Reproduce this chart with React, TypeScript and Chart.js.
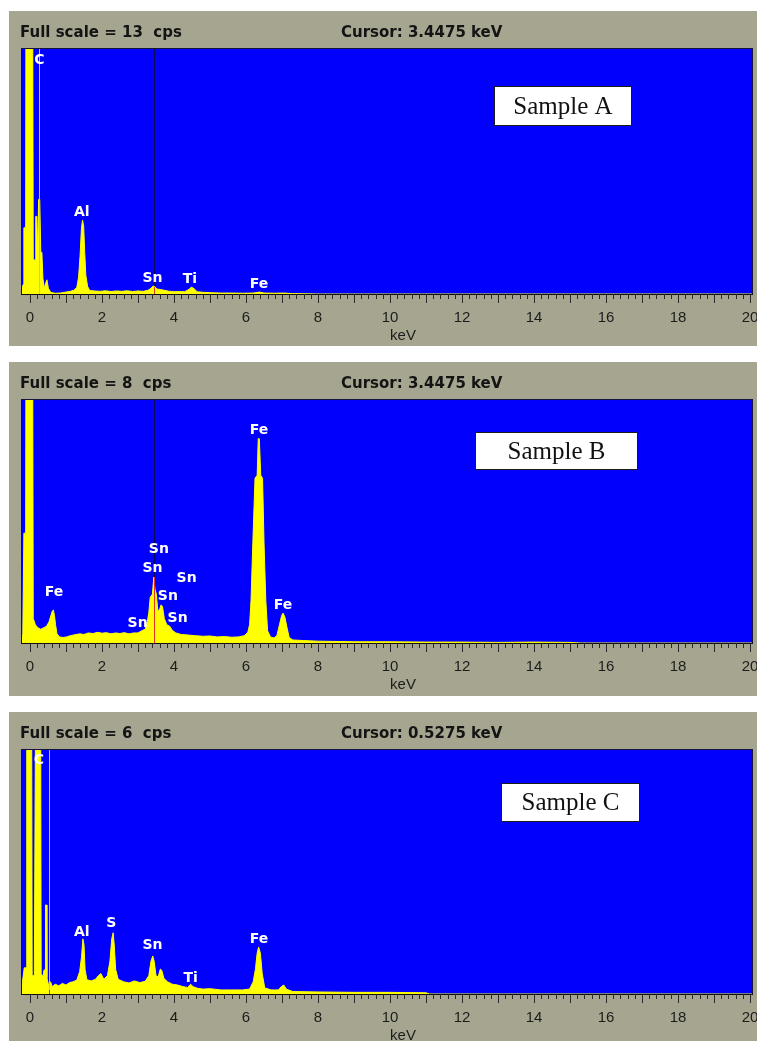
import React, { useEffect, useRef } from 'react';
import { Chart, registerables } from 'chart.js';

Chart.register(...registerables);

// ---------- axis ----------
const X_MIN = -0.25;
const X_MAX = 20.083;
const xTickValues = [0, 2, 4, 6, 8, 10, 12, 14, 16, 18, 20];
const xTickLabels = ['0', '2', '4', '6', '8', '10', '12', '14', '16', '18', '20'];
const xTitle = 'keV';
const xTitleKeV = 10.36;

// ---------- Sample A ----------
const sampleAEnergy = [
  -0.25, -0.22, -0.19, -0.17, -0.12, -0.11, 0.07, 0.09, 0.14, 0.16, 0.19, 0.21, 0.24, 0.27, 0.3, 0.33,
  0.36, 0.4, 0.44, 0.47, 0.51, 0.58, 0.7, 0.85, 1.0, 1.12, 1.22, 1.3, 1.35, 1.39, 1.43, 1.46, 1.49,
  1.52, 1.55, 1.6, 1.66, 1.8, 1.95, 2.1, 2.25, 2.4, 2.55, 2.7, 2.85, 3.0, 3.15, 3.28, 3.36, 3.42,
  3.47, 3.53, 3.62, 3.72, 3.85, 4.0, 4.15, 4.3, 4.42, 4.48, 4.55, 4.64, 4.8, 5.0, 5.3, 5.6, 5.9,
  6.2, 6.38, 6.5, 6.8, 7.05, 7.3, 8.0, 20.08,
];
const sampleACounts = [
  0, 0.3, 0.5, 3.5, 3.5, 20, 20, 1.8, 1.8, 4.1, 4.1, 2.0, 5.0, 5.0, 2.2, 2.2,
  0.8, 0.3, 0.6, 0.75, 0.3, 0.08, 0.04, 0.05, 0.1, 0.14, 0.2, 0.35, 0.9, 2.0, 3.5, 3.9, 3.6,
  2.2, 1.0, 0.4, 0.18, 0.16, 0.14, 0.17, 0.13, 0.16, 0.14, 0.17, 0.13, 0.16, 0.14, 0.2, 0.3, 0.42,
  0.38, 0.26, 0.24, 0.2, 0.15, 0.12, 0.13, 0.12, 0.25, 0.36, 0.3, 0.12, 0.09, 0.07, 0.05, 0.05, 0.04,
  0.05, 0.1, 0.05, 0.04, 0.05, 0.02, 0, 0,
];
const sampleALabels = ['C', 'Al', 'Sn', 'Ti', 'Fe'];
const sampleALabelKeV = [0.26, 1.44, 3.4, 4.44, 6.36];
const sampleALabelCps = [12.37, 4.33, 0.85, 0.79, 0.53];

// ---------- Sample B ----------
const sampleBEnergy = [
  -0.25, -0.2, -0.17, -0.12, -0.11, 0.07, 0.09, 0.15, 0.22, 0.3, 0.38, 0.46, 0.53, 0.58, 0.62, 0.65,
  0.68, 0.71, 0.75, 0.82, 0.92, 1.02, 1.12, 1.25, 1.38, 1.5, 1.62, 1.75, 1.88, 2.0, 2.12, 2.25, 2.38,
  2.5, 2.62, 2.75, 2.88, 3.0, 3.1, 3.2, 3.26, 3.3, 3.34, 3.4, 3.44, 3.47, 3.51, 3.55, 3.6, 3.64,
  3.68, 3.73, 3.8, 3.88, 3.95, 4.05, 4.2, 4.4, 4.6, 4.8, 5.0, 5.2, 5.4, 5.6, 5.8, 5.95, 6.05, 6.1,
  6.14, 6.19, 6.25, 6.31, 6.34, 6.37, 6.41, 6.46, 6.5, 6.55, 6.6, 6.68, 6.78, 6.86, 6.93, 6.99, 7.03,
  7.08, 7.14, 7.2, 7.3, 7.6, 8.0, 8.5, 9.0, 10.0, 11.0, 12.0, 13.0, 14.0, 15.0, 15.3, 20.08,
];
const sampleBCounts = [
  0, 0.3, 3.6, 3.6, 12, 12, 0.8, 0.6, 0.5, 0.45, 0.5, 0.55, 0.7, 0.9, 1.05, 1.08,
  0.9, 0.6, 0.3, 0.2, 0.18, 0.2, 0.24, 0.27, 0.3, 0.28, 0.33, 0.31, 0.35, 0.32, 0.34, 0.3, 0.33,
  0.31, 0.34, 0.3, 0.33, 0.33, 0.4, 0.45, 0.7, 1.0, 1.5, 1.6, 2.16, 1.77, 1.6, 1.05, 1.1, 1.25,
  1.2, 0.8, 0.6, 0.55, 0.42, 0.33, 0.28, 0.26, 0.24, 0.22, 0.23, 0.2, 0.21, 0.19, 0.2, 0.24, 0.35, 0.6,
  1.4, 3.3, 5.4, 5.5, 6.7, 6.7, 5.5, 5.4, 3.3, 1.4, 0.4, 0.2, 0.16, 0.25, 0.6, 0.9, 0.98,
  0.85, 0.5, 0.18, 0.1, 0.08, 0.06, 0.05, 0.04, 0.04, 0.03, 0.03, 0.02, 0.03, 0.02, 0, 0,
];
const sampleBLabels = ['Fe', 'Fe', 'Sn', 'Sn', 'Sn', 'Sn', 'Sn', 'Sn', 'Fe'];
const sampleBLabelKeV = [6.36, 0.67, 3.58, 3.4, 4.35, 3.83, 4.1, 2.99, 7.03];
const sampleBLabelCps = [6.98, 1.67, 3.08, 2.46, 2.13, 1.54, 0.82, 0.66, 1.25];

// ---------- Sample C ----------
const sampleCEnergy = [
  -0.25, -0.21, -0.16, -0.1, -0.09, 0.04, 0.06, 0.12, 0.14, 0.16, 0.17, 0.29, 0.31, 0.36, 0.39, 0.42,
  0.43, 0.46, 0.47, 0.52, 0.57, 0.62, 0.7, 0.8, 0.9, 1.0, 1.1, 1.2, 1.3, 1.38, 1.43, 1.47, 1.5, 1.53,
  1.58, 1.7, 1.82, 1.9, 1.97, 2.05, 2.15, 2.22, 2.27, 2.31, 2.34, 2.38, 2.45, 2.6, 2.75, 2.9, 3.05,
  3.2, 3.3, 3.36, 3.41, 3.45, 3.5, 3.56, 3.62, 3.66, 3.72, 3.82, 3.95, 4.1, 4.25, 4.38, 4.46, 4.53,
  4.65, 4.8, 5.0, 5.3, 5.6, 5.9, 6.1, 6.2, 6.26, 6.31, 6.35, 6.4, 6.45, 6.52, 6.7, 6.9, 6.98, 7.05,
  7.12, 7.3, 8.0, 9.0, 10.0, 11.0, 11.1, 20.08,
];
const sampleCCounts = [
  0, 0.3, 0.64, 0.64, 10, 10, 0.45, 0.45, 4.4, 4.4, 10, 10, 0.5, 0.42, 0.59, 0.59,
  2.18, 2.18, 0.4, 0.2, 0.3, 0.18, 0.24, 0.2, 0.26, 0.22, 0.28, 0.3, 0.34, 0.55, 0.9, 1.35, 1.2, 0.6,
  0.35, 0.32, 0.36, 0.45, 0.5, 0.36, 0.45, 0.8, 1.35, 1.5, 1.2, 0.6, 0.36, 0.3, 0.27, 0.32, 0.28,
  0.31, 0.45, 0.8, 0.93, 0.8, 0.45, 0.42, 0.61, 0.58, 0.38, 0.3, 0.24, 0.22, 0.18, 0.16, 0.24, 0.18,
  0.14, 0.12, 0.13, 0.1, 0.1, 0.1, 0.12, 0.3, 0.6, 1.0, 1.15, 1.0, 0.5, 0.15, 0.1, 0.1, 0.18, 0.22,
  0.12, 0.06, 0.05, 0.04, 0.04, 0.03, 0, 0,
];
const sampleCLabels = ['C', 'Al', 'S', 'Sn', 'Ti', 'Fe'];
const sampleCLabelKeV = [0.25, 1.44, 2.26, 3.4, 4.46, 6.36];
const sampleCLabelCps = [5.73, 1.52, 1.74, 1.18, 0.39, 1.35];

// ---------- per panel scalar settings ----------
const fullScaleCps = [13, 8, 6];
const cursorKeV = [3.4475, 3.4475, 0.5275];
const cursorCps = [0.37, 2.16, 0.1];
const sampleNames = ['Sample A', 'Sample B', 'Sample C'];
const markerKeV = [[0.25], [], []];

// ---------- styles ----------
const GRAY = '#a6a58f';
const BLUE = '#0000fc';
const YELLOW = '#ffff00';
const TITLE_FONT = 'bold 15px "DejaVu Sans", "Liberation Sans", sans-serif';
const LABEL_FONT = 'bold 14px "DejaVu Sans", "Liberation Sans", sans-serif';
const TICK_FONT = '15px "Liberation Sans", Arial, sans-serif';
const BOX_FONT = '25px "Liberation Serif", "Times New Roman", serif';

type PanelCfg = {
  index: number;
  top: number;
  height: number;
  padBottom: number;
  energy: number[];
  counts: number[];
  labels: string[];
  labelKeV: number[];
  labelCps: number[];
  cursorDark: boolean;
  box: [number, number, number, number];
};

const panels: PanelCfg[] = [
  {
    index: 0, top: 11, height: 335, padBottom: 52,
    energy: sampleAEnergy, counts: sampleACounts,
    labels: sampleALabels, labelKeV: sampleALabelKeV, labelCps: sampleALabelCps,
    cursorDark: true, box: [485, 75, 138, 40],
  },
  {
    index: 1, top: 362, height: 334, padBottom: 53,
    energy: sampleBEnergy, counts: sampleBCounts,
    labels: sampleBLabels, labelKeV: sampleBLabelKeV, labelCps: sampleBLabelCps,
    cursorDark: true, box: [466, 70, 163, 38],
  },
  {
    index: 2, top: 712, height: 329, padBottom: 47,
    energy: sampleCEnergy, counts: sampleCCounts,
    labels: sampleCLabels, labelKeV: sampleCLabelKeV, labelCps: sampleCLabelCps,
    cursorDark: false, box: [492, 71, 139, 39],
  },
];

function vline(ctx: CanvasRenderingContext2D, x: number, y0: number, y1: number) {
  ctx.beginPath();
  ctx.moveTo(x, y0);
  ctx.lineTo(x, y1);
  ctx.stroke();
}

function makePlugin(cfg: PanelCfg) {
  const i = cfg.index;
  return {
    id: 'edsPanel' + i,
    beforeDraw(chart: any) {
      const { ctx, chartArea: a } = chart;
      const xs = chart.scales.x;
      ctx.save();
      ctx.fillStyle = GRAY;
      ctx.fillRect(0, 0, chart.width, chart.height);
      ctx.fillStyle = BLUE;
      ctx.fillRect(a.left, a.top, a.right - a.left, a.bottom - a.top);
      ctx.fillStyle = '#141414';
      ctx.font = TITLE_FONT;
      ctx.textAlign = 'left';
      ctx.textBaseline = 'alphabetic';
      ctx.fillText(`Full scale = ${fullScaleCps[i]}  cps`, 11, 26);
      ctx.fillText(`Cursor: ${cursorKeV[i].toFixed(4)} keV`, 332, 26);
      if (cfg.cursorDark) {
        const cx = Math.round(xs.getPixelForValue(cursorKeV[i])) + 0.5;
        ctx.strokeStyle = '#0a0a50';
        ctx.lineWidth = 1;
        vline(ctx, cx, a.top, a.bottom);
      }
      ctx.restore();
    },
    afterDatasetsDraw(chart: any) {
      const { ctx, chartArea: a } = chart;
      const xs = chart.scales.x;
      const ys = chart.scales.y;
      ctx.save();
      ctx.lineWidth = 1;
      // pale marker lines
      ctx.strokeStyle = '#b8b8ff';
      for (const m of markerKeV[i]) {
        const mx = Math.round(xs.getPixelForValue(m)) + 0.5;
        vline(ctx, mx, a.top, a.bottom);
      }
      const cx = Math.round(xs.getPixelForValue(cursorKeV[i])) + 0.5;
      if (!cfg.cursorDark) vline(ctx, cx, a.top, a.bottom);
      // red part of the cursor over the spectrum
      ctx.strokeStyle = '#e8301c';
      vline(ctx, cx, ys.getPixelForValue(cursorCps[i]), a.bottom);
      // peak labels
      ctx.fillStyle = '#ffffff';
      ctx.font = LABEL_FONT;
      ctx.textAlign = 'center';
      ctx.textBaseline = 'middle';
      cfg.labels.forEach((t, k) => {
        ctx.fillText(t, xs.getPixelForValue(cfg.labelKeV[k]), ys.getPixelForValue(cfg.labelCps[k]));
      });
      // plot frame
      ctx.strokeStyle = '#14143a';
      ctx.strokeRect(a.left + 0.5, a.top + 0.5, a.right - a.left - 1, a.bottom - a.top);
      ctx.strokeStyle = '#101010';
      ctx.beginPath();
      ctx.moveTo(a.left, a.bottom + 0.5);
      ctx.lineTo(a.right, a.bottom + 0.5);
      ctx.stroke();
      // tick marks (major every 1 keV, minor every 0.2 keV)
      ctx.strokeStyle = '#2a2a2a';
      for (let k = 0; k <= 100; k++) {
        const v = k * 0.2;
        const px = Math.round(xs.getPixelForValue(v)) + 0.5;
        const len = k % 5 === 0 ? 9 : 5;
        vline(ctx, px, a.bottom, a.bottom + len);
      }
      // tick labels
      ctx.fillStyle = '#1c1c1c';
      ctx.font = TICK_FONT;
      ctx.textAlign = 'center';
      ctx.textBaseline = 'middle';
      xTickValues.forEach((v, k) => {
        ctx.fillText(xTickLabels[k], xs.getPixelForValue(v), a.bottom + 23.5);
      });
      ctx.fillText(xTitle, xs.getPixelForValue(xTitleKeV), a.bottom + 41.5);
      // sample box
      const [bx, by, bw, bh] = cfg.box;
      ctx.fillStyle = '#ffffff';
      ctx.fillRect(bx, by, bw, bh);
      ctx.strokeStyle = '#1a1a1a';
      ctx.strokeRect(bx + 0.5, by + 0.5, bw - 1, bh - 1);
      ctx.fillStyle = '#111111';
      ctx.font = BOX_FONT;
      ctx.textAlign = 'center';
      ctx.textBaseline = 'middle';
      ctx.fillText(sampleNames[i], bx + bw / 2, by + bh / 2 + 1);
      ctx.restore();
    },
  };
}

function Panel({ cfg }: { cfg: PanelCfg }) {
  const ref = useRef<HTMLCanvasElement>(null);
  useEffect(() => {
    const chart = new Chart(ref.current as HTMLCanvasElement, {
      type: 'line',
      data: {
        datasets: [
          {
            data: cfg.energy.map((x, k) => ({ x, y: cfg.counts[k] })),
            borderColor: YELLOW,
            backgroundColor: YELLOW,
            borderWidth: 1,
            fill: 'origin',
            pointRadius: 0,
            tension: 0,
          },
        ],
      },
      options: {
        animation: false,
        responsive: false,
        maintainAspectRatio: false,
        events: [],
        layout: { padding: { left: 12, right: 4, top: 37, bottom: cfg.padBottom } },
        scales: {
          x: { type: 'linear', min: X_MIN, max: X_MAX, display: false },
          y: { type: 'linear', min: 0, max: fullScaleCps[cfg.index], display: false },
        },
        plugins: { legend: { display: false }, tooltip: { enabled: false } },
      },
      plugins: [makePlugin(cfg)],
    } as any);
    return () => chart.destroy();
  }, [cfg]);
  return (
    <canvas
      ref={ref}
      width={748}
      height={cfg.height}
      style={{ position: 'absolute', left: 9, top: cfg.top, width: 748, height: cfg.height }}
    />
  );
}

export default function App() {
  return (
    <div style={{ position: 'absolute', left: 0, top: 0, width: 757, height: 1041, background: '#ffffff', overflow: 'hidden' }}>
      {panels.map((p) => (
        <Panel key={p.index} cfg={p} />
      ))}
    </div>
  );
}
